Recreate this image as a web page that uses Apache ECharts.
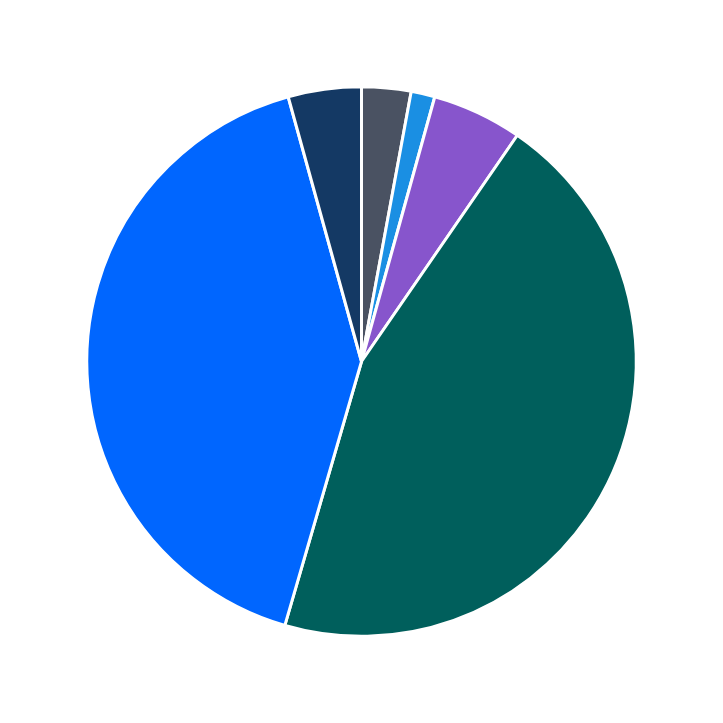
<!DOCTYPE html>
<html>
<head>
<meta charset="utf-8">
<script src="https://cdn.jsdelivr.net/npm/echarts@6/dist/echarts.min.js"></script>
<style>html,body{margin:0;padding:0;background:#fff}#c{width:723px;height:723px}</style>
</head>
<body>
<div id="c"></div>
<script>
const names = ['A', 'B', 'C', 'D', 'E', 'F'];
const values = [2.9, 1.4, 5.3, 44.9, 41.2, 4.3];
const colors = ['#4a5262', '#1a8fe3', '#8755cc', '#005f5c', '#0066ff', '#143964'];

let data = names.map((n, i) => ({name: n, value: values[i], itemStyle: {color: colors[i]}}));

let chart = echarts.init(document.getElementById('c'));
chart.setOption({
	animation: false,
	series: [
		{
			type: 'pie',
			radius: ['0%', '76%'],
			center: ['50%', '50%'],
			startAngle: 90,
			itemStyle: {borderColor: '#fff', borderWidth: 3},
			label: {show: false},
			labelLine: {show: false},
			data: data
		},
		{
			// transparent ring only used to place the labels further out
			type: 'pie',
			radius: ['23%', '76%'],
			center: ['50%', '50%'],
			startAngle: 90,
			silent: true,
			itemStyle: {opacity: 0},
			label: {
				show: true,
				position: 'inside',
				formatter: p => Math.round(p.value) + '%',
				color: '#fff',
				fontSize: 21,
				fontWeight: 'bold',
				fontFamily: 'DejaVu Sans'
			},
			labelLine: {show: false},
			data: data
		}
	]
});
</script>
</body>
</html>
